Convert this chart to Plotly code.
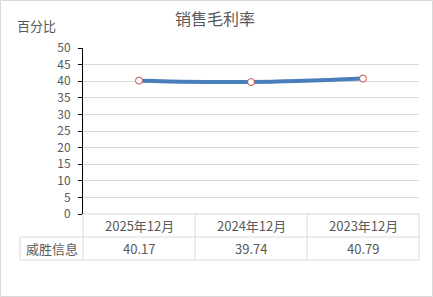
import plotly.graph_objects as go

categories = ["2025年12月", "2024年12月", "2023年12月"]
series_name = "威胜信息"
values = [40.17, 39.74, 40.79]
title_text = "销售毛利率"
y_title = "百分比"

W, H = 433, 297
L, R, T, B = 83, 14, 48, 83
PW, PH = W - L - R, H - T - B

def px(x):
    return (x - L) / PW

def py(y):
    return (H - B - y) / PH

FONT = "Noto Sans CJK SC, Microsoft YaHei, sans-serif"
GRAY = "#595959"
GRID = "#d9d9d9"

xs = list(range(len(categories)))
fig = go.Figure()
fig.add_trace(go.Scatter(
    x=xs, y=values, mode="lines+markers",
    line=dict(color="#4a7ebb", width=4, shape="spline"),
    marker=dict(symbol="circle", size=7, color="white",
                line=dict(color="#c0504d", width=1)),
    showlegend=False, hoverinfo="skip",
))

shapes = []
# outer frame
shapes.append(dict(type="rect", xref="paper", yref="paper",
                   x0=px(0.5), x1=px(W - 0.5), y0=py(0.5), y1=py(H - 0.5),
                   line=dict(color=GRID, width=1), layer="below"))
# table geometry
row1_top, row1_bot, row2_bot = 214, 237, 260
left_col = 20
n = len(categories)
colw = PW / n
def hline(x0, x1, y):
    shapes.append(dict(type="line", xref="paper", yref="paper",
                       x0=px(x0), x1=px(x1), y0=py(y), y1=py(y),
                       line=dict(color=GRID, width=1)))
def vline(x, y0, y1):
    shapes.append(dict(type="line", xref="paper", yref="paper",
                       x0=px(x), x1=px(x), y0=py(y0), y1=py(y1),
                       line=dict(color=GRID, width=1)))
hline(L, W - R, row1_top)
hline(left_col, W - R, row1_bot)
hline(left_col, W - R, row2_bot)
for i in range(n + 1):
    vline(L + i * colw, row1_top, row2_bot)
vline(left_col, row1_bot, row2_bot)

annotations = []
for i, c in enumerate(categories):
    annotations.append(dict(x=i, xref="x", y=py((row1_top + row1_bot) / 2), yref="paper",
                            text=c, showarrow=False, font=dict(family=FONT, size=13, color=GRAY),
                            xanchor="center", yanchor="middle"))
for i, v in enumerate(values):
    annotations.append(dict(x=i, xref="x", y=py((row1_bot + row2_bot) / 2), yref="paper",
                            text=f"{v:.2f}", showarrow=False, font=dict(family=FONT, size=13, color=GRAY),
                            xanchor="center", yanchor="middle"))
annotations.append(dict(x=px((left_col + L) / 2), xref="paper", y=py((row1_bot + row2_bot) / 2), yref="paper",
                        text=series_name, showarrow=False, font=dict(family=FONT, size=13, color=GRAY),
                        xanchor="center", yanchor="middle"))
annotations.append(dict(x=px(215), xref="paper", y=py(18), yref="paper",
                        text=title_text, showarrow=False, font=dict(family=FONT, size=16, color=GRAY),
                        xanchor="center", yanchor="middle"))
annotations.append(dict(x=px(37), xref="paper", y=py(26), yref="paper",
                        text=y_title, showarrow=False, font=dict(family=FONT, size=13, color=GRAY),
                        xanchor="center", yanchor="middle"))

fig.update_layout(
    width=W, height=H,
    margin=dict(l=L, r=R, t=T, b=B, pad=0),
    paper_bgcolor="white", plot_bgcolor="white",
    shapes=shapes, annotations=annotations,
    xaxis=dict(range=[-0.5, n - 0.5], showgrid=False, zeroline=False,
               showticklabels=False, ticks="", showline=False, fixedrange=True),
    yaxis=dict(range=[0, 50], dtick=5, showgrid=True, gridcolor=GRID, gridwidth=1,
               zeroline=False, showline=True, linecolor="black", linewidth=1,
               ticks="outside", ticklen=4, tickcolor="black", ticklabelstandoff=5,
               tickfont=dict(family=FONT, size=12, color=GRAY), fixedrange=True),
)
fig.write_html("out.html", config={"displayModeBar": False})
